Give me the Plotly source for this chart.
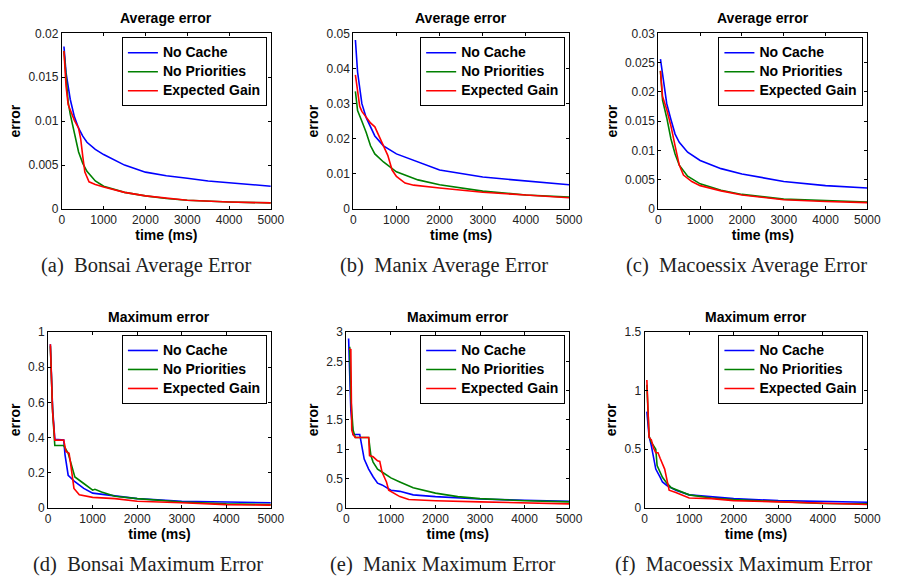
import plotly.graph_objects as go

# ---------------- data ----------------
series_names = ["No Cache", "No Priorities", "Expected Gain"]
colors = ["#0000FF", "#008000", "#FF0000"]

x_ticks = [0, 1000, 2000, 3000, 4000, 5000]

# (a) Bonsai average error
a_t_nc = [50, 100, 200, 300, 400, 500, 600, 800, 1000, 1500, 2000, 2500, 3000, 3500, 4000, 4500, 5000]
a_nc = [0.0185, 0.0155, 0.0125, 0.0105, 0.0092, 0.0083, 0.0076, 0.0068, 0.0062, 0.0050, 0.0042, 0.0038, 0.0035, 0.0032, 0.0030, 0.0028, 0.0026]
a_t_np = [50, 100, 150, 200, 300, 400, 500, 600, 800, 1000, 1500, 2000, 2500, 3000, 4000, 5000]
a_np = [0.0180, 0.0145, 0.0122, 0.0108, 0.0085, 0.0065, 0.0052, 0.0043, 0.0032, 0.0026, 0.0019, 0.0015, 0.0012, 0.0010, 0.0008, 0.0007]
a_t_eg = [50, 100, 150, 300, 400, 450, 500, 550, 650, 800, 1000, 1500, 2000, 3000, 4000, 5000]
a_eg = [0.0180, 0.0140, 0.0119, 0.0101, 0.0092, 0.0080, 0.0060, 0.0042, 0.0031, 0.0028, 0.0025, 0.0019, 0.0015, 0.0010, 0.0008, 0.0007]

# (b) Manix average error
b_t_nc = [50, 100, 200, 300, 500, 700, 1000, 1500, 2000, 3000, 4000, 5000]
b_nc = [0.0481, 0.0390, 0.0300, 0.0260, 0.0208, 0.0180, 0.0157, 0.0134, 0.0111, 0.0091, 0.0079, 0.0069]
b_t_np = [50, 100, 200, 300, 400, 500, 700, 1000, 1500, 2000, 3000, 4000, 5000]
b_np = [0.0335, 0.0280, 0.0250, 0.0218, 0.0180, 0.0157, 0.0134, 0.0106, 0.0083, 0.0069, 0.0051, 0.0040, 0.0034]
b_t_eg = [50, 100, 150, 200, 300, 400, 500, 600, 700, 800, 900, 1000, 1200, 1400, 2000, 3000, 4000, 5000]
b_eg = [0.0382, 0.0329, 0.0292, 0.0278, 0.0260, 0.0245, 0.0234, 0.0208, 0.0180, 0.0153, 0.0111, 0.0093, 0.0074, 0.0068, 0.0060, 0.0048, 0.0040, 0.0032]

# (c) Macoessix average error
c_t_nc = [50, 100, 200, 300, 400, 500, 700, 1000, 1500, 2000, 3000, 4000, 5000]
c_nc = [0.0256, 0.0228, 0.0180, 0.0153, 0.0128, 0.0114, 0.0097, 0.0083, 0.0069, 0.0060, 0.0047, 0.0040, 0.0036]
c_t_np = [50, 100, 200, 300, 400, 500, 700, 1000, 1500, 2000, 3000, 4000, 5000]
c_np = [0.0236, 0.0186, 0.0156, 0.0120, 0.0094, 0.0075, 0.0056, 0.0043, 0.0032, 0.0025, 0.0017, 0.0014, 0.0012]
c_t_eg = [50, 100, 200, 300, 400, 500, 600, 800, 1000, 1500, 2000, 3000, 4000, 5000]
c_eg = [0.0236, 0.0192, 0.0170, 0.0142, 0.0108, 0.0075, 0.0058, 0.0047, 0.0040, 0.0031, 0.0024, 0.0016, 0.0013, 0.0011]

# (d) Bonsai maximum error
d_t_nc = [50, 100, 150, 350, 380, 420, 450, 600, 800, 1000, 1400, 2000, 3000, 4000, 5000]
d_nc = [0.93, 0.57, 0.39, 0.385, 0.30, 0.22, 0.185, 0.148, 0.11, 0.083, 0.07, 0.052, 0.037, 0.033, 0.028]
d_t_np = [50, 100, 150, 350, 450, 500, 600, 800, 1000, 1050, 1200, 1500, 2000, 3000, 4000, 5000]
d_np = [0.92, 0.55, 0.354, 0.354, 0.31, 0.26, 0.175, 0.138, 0.10, 0.105, 0.089, 0.065, 0.052, 0.033, 0.022, 0.018]
d_t_eg = [50, 100, 150, 350, 400, 470, 500, 580, 700, 1000, 1500, 2000, 3000, 4000, 5000]
d_eg = [0.93, 0.55, 0.385, 0.385, 0.32, 0.31, 0.26, 0.11, 0.074, 0.059, 0.052, 0.037, 0.028, 0.018, 0.015]

# (e) Manix maximum error
e_t_nc = [50, 100, 150, 300, 400, 500, 600, 700, 800, 1000, 1200, 1500, 2000, 3000, 4000, 5000]
e_nc = [2.89, 1.66, 1.25, 1.25, 0.83, 0.66, 0.53, 0.42, 0.39, 0.30, 0.28, 0.22, 0.19, 0.15, 0.127, 0.11]
e_t_np = [75, 100, 150, 200, 500, 550, 600, 700, 800, 1000, 1200, 1500, 2000, 2500, 3000, 4000, 5000]
e_np = [2.75, 1.88, 1.33, 1.20, 1.20, 0.89, 0.78, 0.66, 0.61, 0.51, 0.44, 0.34, 0.25, 0.19, 0.155, 0.12, 0.10]
e_t_eg = [60, 100, 120, 150, 200, 500, 520, 600, 700, 750, 800, 900, 950, 1000, 1200, 1400, 2000, 3000, 4000, 5000]
e_eg = [2.71, 2.70, 1.33, 1.25, 1.20, 1.20, 0.89, 0.87, 0.80, 0.79, 0.61, 0.44, 0.30, 0.28, 0.19, 0.14, 0.12, 0.10, 0.083, 0.066]

# (f) Macoessix maximum error
f_t_nc = [50, 100, 150, 200, 250, 350, 400, 500, 700, 1000, 1500, 2000, 3000, 4000, 5000]
f_nc = [0.82, 0.61, 0.53, 0.44, 0.33, 0.26, 0.22, 0.19, 0.15, 0.11, 0.097, 0.078, 0.061, 0.055, 0.047]
f_t_np = [50, 100, 150, 250, 280, 400, 500, 600, 1000, 1500, 2000, 3000, 4000, 5000]
f_np = [1.05, 0.61, 0.56, 0.50, 0.36, 0.26, 0.21, 0.17, 0.11, 0.083, 0.069, 0.050, 0.036, 0.033]
f_t_eg = [50, 100, 150, 200, 250, 300, 350, 450, 550, 700, 1000, 1500, 2000, 3000, 4000, 5000]
f_eg = [1.09, 0.60, 0.58, 0.51, 0.47, 0.47, 0.42, 0.33, 0.15, 0.13, 0.083, 0.078, 0.061, 0.050, 0.036, 0.028]

panel_titles = ["Average error"] * 3 + ["Maximum error"] * 3
captions = ["(a)  Bonsai Average Error", "(b)  Manix Average Error", "(c)  Macoessix Average Error",
            "(d)  Bonsai Maximum Error", "(e)  Manix Maximum Error", "(f)  Macoessix Maximum Error"]

y_ticks = [
    [0, 0.005, 0.01, 0.015, 0.02],
    [0, 0.01, 0.02, 0.03, 0.04, 0.05],
    [0, 0.005, 0.01, 0.015, 0.02, 0.025, 0.03],
    [0, 0.2, 0.4, 0.6, 0.8, 1],
    [0, 0.5, 1, 1.5, 2, 2.5, 3],
    [0, 0.5, 1, 1.5],
]
y_tick_text = [
    ["0", "0.005", "0.01", "0.015", "0.02"],
    ["0", "0.01", "0.02", "0.03", "0.04", "0.05"],
    ["0", "0.005", "0.01", "0.015", "0.02", "0.025", "0.03"],
    ["0", "0.2", "0.4", "0.6", "0.8", "1"],
    ["0", "0.5", "1", "1.5", "2", "2.5", "3"],
    ["0", "0.5", "1", "1.5"],
]

panels = [
    [(a_t_nc, a_nc), (a_t_np, a_np), (a_t_eg, a_eg)],
    [(b_t_nc, b_nc), (b_t_np, b_np), (b_t_eg, b_eg)],
    [(c_t_nc, c_nc), (c_t_np, c_np), (c_t_eg, c_eg)],
    [(d_t_nc, d_nc), (d_t_np, d_np), (d_t_eg, d_eg)],
    [(e_t_nc, e_nc), (e_t_np, e_np), (e_t_eg, e_eg)],
    [(f_t_nc, f_nc), (f_t_np, f_np), (f_t_eg, f_eg)],
]

# ---------------- layout geometry (target screen pixels) ----------------
W, H = 899, 586
boxes = [  # left, right, top, bottom
    (60, 273, 27, 207),
    (357, 577, 27, 207),
    (668, 881, 27, 207),
    (46, 273, 333, 513),
    (350, 577, 333, 513),
    (654, 881, 333, 513),
]
legend_corner = [(269, 31), (573, 31), (877, 31), (269, 336), (573, 336), (877, 336)]
caption_pos = [(146, 265), (450, 265), (758, 265), (148, 571), (448, 571), (755, 571)]

def px(x):
    return x / W

def py(y):
    return 1 - y / H

fig = go.Figure()
layout = dict(
    width=W, height=H,
    margin=dict(l=0, r=0, t=0, b=0),
    paper_bgcolor="white", plot_bgcolor="white",
    font=dict(family="Liberation Sans, Arial, sans-serif", color="#000000"),
    annotations=[],
    showlegend=True,
)

for i, (box, series) in enumerate(zip(boxes, panels)):
    n = "" if i == 0 else str(i + 1)
    xa, ya = "x" + n, "y" + n
    lg = "legend" + n
    for (t, v), name, col in zip(series, series_names, colors):
        fig.add_trace(go.Scatter(
            x=t, y=v, name="<span style='font-size:14px'><b>" + name + "</b></span>", mode="lines",
            line=dict(color=col, width=1.6),
            xaxis=xa, yaxis=ya, legend=lg,
        ))
    l, r, tp, b = box
    axis_common = dict(
        showline=True, linecolor="black", linewidth=1, mirror="ticks",
        ticks="inside", ticklen=3, tickcolor="black",
        showgrid=False, zeroline=False,
        tickfont=dict(size=12, color="#222222"),
    )
    layout["xaxis" + n] = dict(
        domain=[px(l), px(r)], anchor=ya, range=[0, 5000],
        tickvals=x_ticks, ticktext=[str(v) for v in x_ticks],
        title=dict(text="<b>time (ms)</b>", font=dict(size=14), standoff=0),
        **axis_common,
    )
    yt = y_ticks[i]
    layout["yaxis" + n] = dict(
        domain=[py(b), py(tp)], anchor=xa, range=[yt[0], yt[-1]],
        tickvals=yt, ticktext=y_tick_text[i],
        title=dict(text="<b>error</b>", font=dict(size=14), standoff=4),
        **axis_common,
    )
    lx, ly = legend_corner[i]
    layout[lg] = dict(
        x=px(lx), y=py(ly), xanchor="right", yanchor="top",
        bgcolor="white", bordercolor="black", borderwidth=1,
        font=dict(size=11.5, family="Liberation Sans, Arial, sans-serif"),
        itemwidth=30, tracegroupgap=0,
    )
    # panel title
    layout["annotations"].append(dict(
        text="<b>" + panel_titles[i] + "</b>", x=px((l + r) / 2), y=py(tp - 5),
        xref="paper", yref="paper", xanchor="center", yanchor="bottom",
        showarrow=False, font=dict(size=14),
    ))
    # caption
    cx, cy = caption_pos[i]
    layout["annotations"].append(dict(
        text=captions[i], x=px(cx), y=py(cy), xref="paper", yref="paper",
        xanchor="center", yanchor="middle", showarrow=False,
        font=dict(size=20.5, family="Liberation Serif, Times New Roman, serif", color="#222222"),
    ))

fig.update_layout(**layout)
fig.write_html("out.html", config={"displayModeBar": False},
               post_script="document.body.style.margin='0px';")
